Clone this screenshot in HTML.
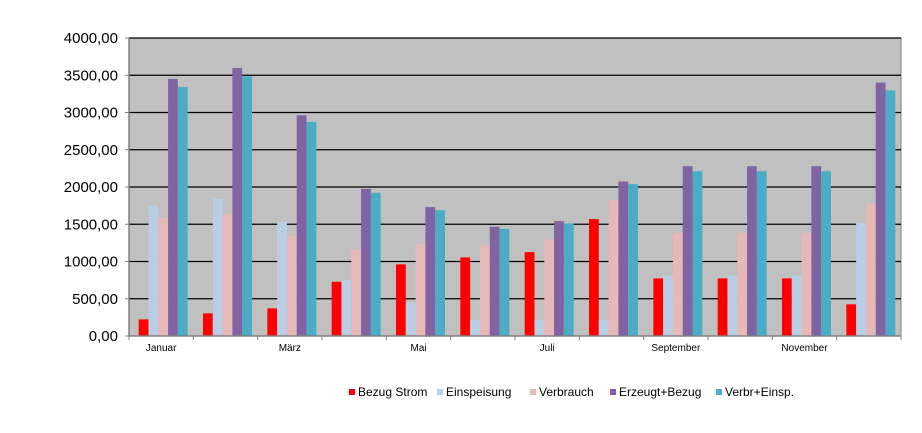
<!DOCTYPE html>
<html><head><meta charset="utf-8"><style>
body{margin:0;background:#fff;width:922px;height:428px;overflow:hidden;font-family:"Liberation Sans",sans-serif}
</style></head><body>
<svg id="chart" width="922" height="428" xmlns="http://www.w3.org/2000/svg"></svg>
<script>
const months=["Januar","Februar","März","April","Mai","Juni","Juli","August","September","Oktober","November","Dezember"];
const shownLabels=["Januar","","März","","Mai","","Juli","","September","","November",""];
const bezug=[223,304,371,728,961,1055,1126,1569,773,773,773,425];
const einspeisung=[1747,1841,1528,755,442,215,215,215,813,813,813,1515];
const verbrauch=[1587,1640,1345,1162,1233,1225,1296,1823,1385,1385,1385,1779];
const erzeugt=[3450,3598,2963,1975,1730,1466,1542,2074,2279,2279,2279,3401];
const verbrEinsp=[3343,3486,2874,1922,1689,1439,1511,2038,2212,2212,2212,3298];
const yTicks=[0,500,1000,1500,2000,2500,3000,3500,4000];
const yTickLabels=["0,00","500,00","1000,00","1500,00","2000,00","2500,00","3000,00","3500,00","4000,00"];
const seriesNames=["Bezug Strom","Einspeisung","Verbrauch","Erzeugt+Bezug","Verbr+Einsp."];

const svg=document.getElementById('chart');
const NS="http://www.w3.org/2000/svg";
const L=129,R=901,T=38,B=336,YMAX=4000;
const y=v=>B-(v/YMAX)*(B-T);
const bw=(R-L)/months.length;
const x=i=>L+i*bw;
const colors=["#ff0000","#b9cde5","#e6b9b8","#8064a2","#4bacc6"];
const series=[bezug,einspeisung,verbrauch,erzeugt,verbrEinsp];
function mk(t,a){const e=document.createElementNS(NS,t);for(const k in a)e.setAttribute(k,a[k]);svg.appendChild(e);return e;}

const bg=mk('rect',{x:L,y:T,width:R-L,height:B-T,fill:'#c0c0c0',stroke:'#808080'});


yTicks.forEach((v,i)=>{
  if(v>0){const g=mk('line',{x1:L,x2:R,y1:y(v),y2:y(v),stroke:'#000','stroke-width':1.3});
  
  }
  const tk=mk('line',{x1:L-4,x2:L,y1:y(v),y2:y(v),stroke:'#808080'});
  
  
  const t=mk('text',{x:118,y:y(v)+5,'text-anchor':'end','font-size':15,fill:'#000'});
  t.textContent=yTickLabels[i];
  
  
});
const barW=9.8, groupOff=(bw-5*barW)/2+2;
series.forEach((s,si)=>{
  s.forEach((v,i)=>{
    const r=mk('rect',{x:x(i)+groupOff+si*barW,y:y(v),width:barW,height:B-y(v),fill:colors[si]});
    
    
  });
});
const ax=mk('line',{x1:L,x2:R,y1:B,y2:B,stroke:'#808080','stroke-width':1.5});


const ay=mk('line',{x1:L,x2:L,y1:T,y2:B,stroke:'#808080','stroke-width':1.5});


for(let i=0;i<=months.length;i++){
  const tk=mk('line',{x1:x(i),x2:x(i),y1:B,y2:B+4,stroke:'#808080'});
  
  
}
shownLabels.forEach((m,i)=>{
  if(!m)return;
  const t=mk('text',{x:x(i)+bw/2,y:351,'text-anchor':'middle','font-size':10,fill:'#000'});
  t.textContent=m;
  
  
});
const legX=[349,437,530,610,716];
seriesNames.forEach((n,i)=>{
  const r=mk('rect',{x:legX[i],y:389,width:6,height:6,fill:colors[i]});
  
  
  const t=mk('text',{x:legX[i]+9,y:396,'font-size':12,fill:'#000'});
  t.textContent=n;
  
  
});
</script>
</body></html>
